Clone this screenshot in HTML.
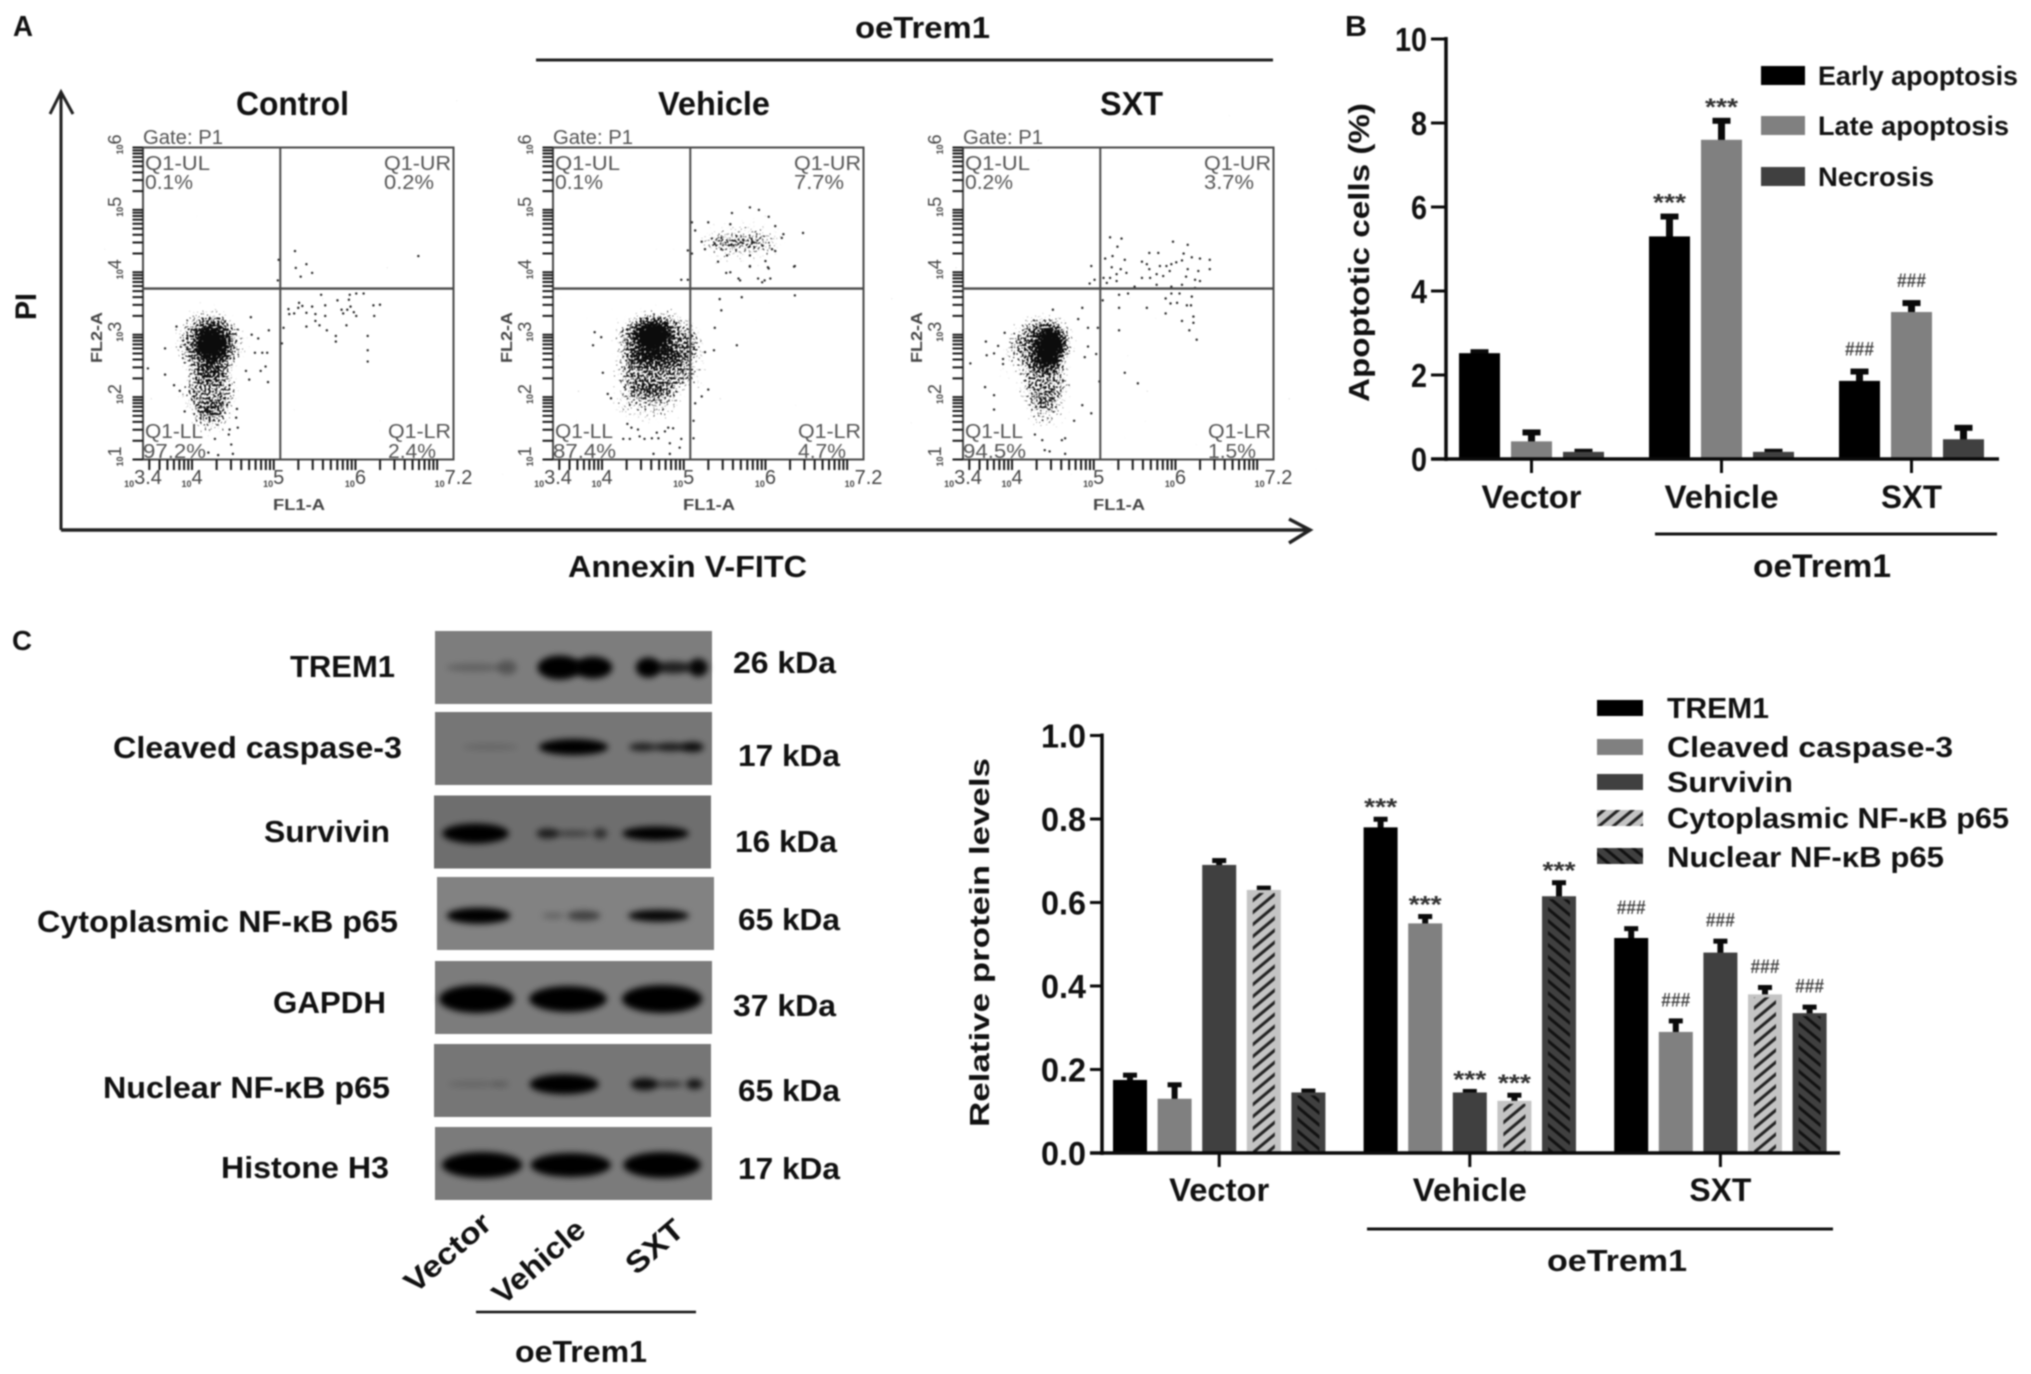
<!DOCTYPE html>
<html lang="en">
<head>
<meta charset="utf-8">
<title>Apoptosis figure</title>
<style>
html,body{margin:0;padding:0;background:#fff;}
svg{display:block;filter:blur(0.8px);}
text{font-family:"Liberation Sans",sans-serif;}
.b{font-weight:bold;fill:#111;}
.g{fill:#555;font-size:20px;}
.f{font-weight:bold;fill:#444;font-size:16px;}
</style>
</head>
<body>
<svg id="figure" xmlns="http://www.w3.org/2000/svg" width="2031" height="1374" viewBox="0 0 2031 1374">
<defs>
<filter id="speckle" filterUnits="userSpaceOnUse" x="100" y="100" width="1250" height="400" color-interpolation-filters="sRGB">
<feGaussianBlur in="SourceAlpha" stdDeviation="7" result="soft"/>
<feTurbulence type="fractalNoise" baseFrequency="0.45" numOctaves="2" seed="7" result="noise"/>
<feComposite in="soft" in2="noise" operator="arithmetic" k1="0" k2="1" k3="1" k4="-0.9" result="sum"/>
<feComponentTransfer in="sum" result="mask"><feFuncA type="linear" slope="8" intercept="0"/></feComponentTransfer>
<feFlood flood-color="#0c0c0c"/>
<feComposite in2="mask" operator="in"/>
</filter>
<filter id="bandBlur" x="-40%" y="-80%" width="180%" height="260%"><feGaussianBlur stdDeviation="3.2"/></filter>
<pattern id="hatchCyto" patternUnits="userSpaceOnUse" width="9.2" height="9.2" patternTransform="rotate(-40)"><rect width="9.2" height="9.2" fill="#c4c4c4"/><rect y="3.2" width="9.2" height="3" fill="#222"/></pattern>
<pattern id="hatchNuc" patternUnits="userSpaceOnUse" width="9.2" height="9.2" patternTransform="rotate(40)"><rect width="9.2" height="9.2" fill="#404040"/><rect y="3.2" width="9.2" height="3" fill="#111"/></pattern>
</defs>

<!-- Panel A static -->
<g>
<text class="b" x="13" y="36" font-size="29" textLength="20" lengthAdjust="spacingAndGlyphs">A</text>
<text class="b" x="855" y="38" font-size="31" textLength="135" lengthAdjust="spacingAndGlyphs">oeTrem1</text>
<line x1="536" y1="60" x2="1273" y2="60" stroke="#222" stroke-width="3"/>
<text class="b" x="236" y="115" font-size="33" textLength="113" lengthAdjust="spacingAndGlyphs">Control</text>
<text class="b" x="658" y="115" font-size="33" textLength="112" lengthAdjust="spacingAndGlyphs">Vehicle</text>
<text class="b" x="1100" y="115" font-size="33" textLength="63" lengthAdjust="spacingAndGlyphs">SXT</text>
<text class="b" x="568" y="577" font-size="31" textLength="239" lengthAdjust="spacingAndGlyphs">Annexin V-FITC</text>
<text class="b" transform="translate(36,320) rotate(-90)" font-size="30" textLength="27" lengthAdjust="spacingAndGlyphs">PI</text>
<path d="M61 530V92M50 114L61 92L73 114" fill="none" stroke="#222" stroke-width="3"/>
<path d="M61 530H1310M1289 519L1310 530L1289 543" fill="none" stroke="#222" stroke-width="3.5"/>

<g id="flow0" transform="translate(143,0)">
<text class="g" x="0" y="144" font-size="19" textLength="80" lengthAdjust="spacingAndGlyphs">Gate: P1</text>
<text class="g" x="2" y="170" textLength="65" lengthAdjust="spacingAndGlyphs">Q1-UL</text>
<text class="g" x="2" y="189" textLength="48" lengthAdjust="spacingAndGlyphs">0.1%</text>
<text class="g" x="241" y="170" textLength="67" lengthAdjust="spacingAndGlyphs">Q1-UR</text>
<text class="g" x="241" y="189" textLength="50" lengthAdjust="spacingAndGlyphs">0.2%</text>
<text class="g" x="2" y="438" textLength="58" lengthAdjust="spacingAndGlyphs">Q1-LL</text>
<text class="g" x="0" y="458" textLength="63" lengthAdjust="spacingAndGlyphs">97.2%</text>
<text class="g" x="245" y="438" textLength="63" lengthAdjust="spacingAndGlyphs">Q1-LR</text>
<text class="g" x="245" y="458" textLength="48" lengthAdjust="spacingAndGlyphs">2.4%</text>
<text class="f" x="130" y="510" textLength="52" lengthAdjust="spacingAndGlyphs">FL1-A</text>
<text class="f" transform="translate(-41,363) rotate(-90)" textLength="51" lengthAdjust="spacingAndGlyphs">FL2-A</text>
</g>
<g id="flow1" transform="translate(553,0)">
<text class="g" x="0" y="144" font-size="19" textLength="80" lengthAdjust="spacingAndGlyphs">Gate: P1</text>
<text class="g" x="2" y="170" textLength="65" lengthAdjust="spacingAndGlyphs">Q1-UL</text>
<text class="g" x="2" y="189" textLength="48" lengthAdjust="spacingAndGlyphs">0.1%</text>
<text class="g" x="241" y="170" textLength="67" lengthAdjust="spacingAndGlyphs">Q1-UR</text>
<text class="g" x="241" y="189" textLength="50" lengthAdjust="spacingAndGlyphs">7.7%</text>
<text class="g" x="2" y="438" textLength="58" lengthAdjust="spacingAndGlyphs">Q1-LL</text>
<text class="g" x="0" y="458" textLength="63" lengthAdjust="spacingAndGlyphs">87.4%</text>
<text class="g" x="245" y="438" textLength="63" lengthAdjust="spacingAndGlyphs">Q1-LR</text>
<text class="g" x="245" y="458" textLength="48" lengthAdjust="spacingAndGlyphs">4.7%</text>
<text class="f" x="130" y="510" textLength="52" lengthAdjust="spacingAndGlyphs">FL1-A</text>
<text class="f" transform="translate(-41,363) rotate(-90)" textLength="51" lengthAdjust="spacingAndGlyphs">FL2-A</text>
</g>
<g id="flow2" transform="translate(963,0)">
<text class="g" x="0" y="144" font-size="19" textLength="80" lengthAdjust="spacingAndGlyphs">Gate: P1</text>
<text class="g" x="2" y="170" textLength="65" lengthAdjust="spacingAndGlyphs">Q1-UL</text>
<text class="g" x="2" y="189" textLength="48" lengthAdjust="spacingAndGlyphs">0.2%</text>
<text class="g" x="241" y="170" textLength="67" lengthAdjust="spacingAndGlyphs">Q1-UR</text>
<text class="g" x="241" y="189" textLength="50" lengthAdjust="spacingAndGlyphs">3.7%</text>
<text class="g" x="2" y="438" textLength="58" lengthAdjust="spacingAndGlyphs">Q1-LL</text>
<text class="g" x="0" y="458" textLength="63" lengthAdjust="spacingAndGlyphs">94.5%</text>
<text class="g" x="245" y="438" textLength="63" lengthAdjust="spacingAndGlyphs">Q1-LR</text>
<text class="g" x="245" y="458" textLength="48" lengthAdjust="spacingAndGlyphs">1.5%</text>
<text class="f" x="130" y="510" textLength="52" lengthAdjust="spacingAndGlyphs">FL1-A</text>
<text class="f" transform="translate(-41,363) rotate(-90)" textLength="51" lengthAdjust="spacingAndGlyphs">FL2-A</text>
</g>
</g>

<!-- Panel B static -->
<g id="panelB">
<text class="b" x="1345" y="36" font-size="29" textLength="22" lengthAdjust="spacingAndGlyphs">B</text>
<text class="b" transform="translate(1369,402) rotate(-90)" font-size="29" textLength="299" lengthAdjust="spacingAndGlyphs">Apoptotic cells (%)</text>
<rect x="1761" y="66" width="44" height="19" fill="#000"/>
<rect x="1761" y="116" width="44" height="19" fill="#808080"/>
<rect x="1761" y="167" width="44" height="19" fill="#404040"/>
<text class="b" x="1818" y="85" font-size="27" textLength="200" lengthAdjust="spacingAndGlyphs">Early apoptosis</text>
<text class="b" x="1818" y="135" font-size="27" textLength="191" lengthAdjust="spacingAndGlyphs">Late apoptosis</text>
<text class="b" x="1818" y="186" font-size="27" textLength="116" lengthAdjust="spacingAndGlyphs">Necrosis</text>
<line x1="1655" y1="534" x2="1997" y2="534" stroke="#111" stroke-width="3"/>
<text class="b" x="1753" y="577" font-size="32" textLength="138" lengthAdjust="spacingAndGlyphs">oeTrem1</text>
</g>

<!-- Panel C static -->
<g id="panelC">
<text class="b" x="12" y="650" font-size="28" textLength="20" lengthAdjust="spacingAndGlyphs">C</text>
<text class="b" x="290" y="677" font-size="31" textLength="105" lengthAdjust="spacingAndGlyphs">TREM1</text>
<text class="b" x="113" y="758" font-size="31" textLength="289" lengthAdjust="spacingAndGlyphs">Cleaved caspase-3</text>
<text class="b" x="264" y="842" font-size="31" textLength="126" lengthAdjust="spacingAndGlyphs">Survivin</text>
<text class="b" x="37" y="932" font-size="31" textLength="361" lengthAdjust="spacingAndGlyphs">Cytoplasmic NF-κB p65</text>
<text class="b" x="273" y="1013" font-size="31" textLength="113" lengthAdjust="spacingAndGlyphs">GAPDH</text>
<text class="b" x="103" y="1098" font-size="31" textLength="287" lengthAdjust="spacingAndGlyphs">Nuclear NF-κB p65</text>
<text class="b" x="221" y="1178" font-size="31" textLength="168" lengthAdjust="spacingAndGlyphs">Histone H3</text>
<text class="b" x="733" y="673" font-size="31" textLength="103" lengthAdjust="spacingAndGlyphs">26 kDa</text>
<text class="b" x="738" y="766" font-size="31" textLength="102" lengthAdjust="spacingAndGlyphs">17 kDa</text>
<text class="b" x="735" y="852" font-size="31" textLength="102" lengthAdjust="spacingAndGlyphs">16 kDa</text>
<text class="b" x="738" y="930" font-size="31" textLength="102" lengthAdjust="spacingAndGlyphs">65 kDa</text>
<text class="b" x="733" y="1016" font-size="31" textLength="103" lengthAdjust="spacingAndGlyphs">37 kDa</text>
<text class="b" x="738" y="1101" font-size="31" textLength="102" lengthAdjust="spacingAndGlyphs">65 kDa</text>
<text class="b" x="738" y="1179" font-size="31" textLength="102" lengthAdjust="spacingAndGlyphs">17 kDa</text>
<text class="b" transform="translate(447,1252) rotate(-41)" y="11" font-size="30" text-anchor="middle" textLength="104" lengthAdjust="spacingAndGlyphs">Vector</text>
<text class="b" transform="translate(538,1261) rotate(-41)" y="11" font-size="30" text-anchor="middle" textLength="112" lengthAdjust="spacingAndGlyphs">Vehicle</text>
<text class="b" transform="translate(654,1246) rotate(-41)" y="11" font-size="30" text-anchor="middle" textLength="66" lengthAdjust="spacingAndGlyphs">SXT</text>
<line x1="476" y1="1312" x2="696" y2="1312" stroke="#111" stroke-width="2.5"/>
<text class="b" x="515" y="1362" font-size="31" textLength="132" lengthAdjust="spacingAndGlyphs">oeTrem1</text>

<text class="b" transform="translate(989,1127) rotate(-90)" font-size="28" textLength="369" lengthAdjust="spacingAndGlyphs">Relative protein levels</text>
<rect x="1597" y="700" width="46" height="16" fill="#000"/>
<rect x="1597" y="739" width="46" height="16" fill="#808080"/>
<rect x="1597" y="774" width="46" height="16" fill="#404040"/>
<rect x="1597" y="810" width="46" height="16" fill="url(#hatchCyto)"/>
<rect x="1597" y="848" width="46" height="16" fill="url(#hatchNuc)"/>
<text class="b" x="1667" y="718" font-size="29" textLength="102" lengthAdjust="spacingAndGlyphs">TREM1</text>
<text class="b" x="1667" y="757" font-size="29" textLength="286" lengthAdjust="spacingAndGlyphs">Cleaved caspase-3</text>
<text class="b" x="1667" y="792" font-size="29" textLength="126" lengthAdjust="spacingAndGlyphs">Survivin</text>
<text class="b" x="1667" y="828" font-size="29" textLength="342" lengthAdjust="spacingAndGlyphs">Cytoplasmic NF-κB p65</text>
<text class="b" x="1667" y="867" font-size="29" textLength="277" lengthAdjust="spacingAndGlyphs">Nuclear NF-κB p65</text>
<line x1="1367" y1="1229" x2="1833" y2="1229" stroke="#111" stroke-width="3"/>
<text class="b" x="1547" y="1271" font-size="31" textLength="140" lengthAdjust="spacingAndGlyphs">oeTrem1</text>
</g>

<g id="marks"></g>
</svg>

<script>
/* ---------- Panel A: flow cytometry (log10 FL1, log10 FL2) ---------- */
const flowPoints0 = [[5.26,4.34],[5.27,4.07],[5.40,4.13],[5.47,3.99],[5.33,3.93],[6.77,4.26],[5.06,4.20],[5.05,3.87],
[5.18,3.41],[5.19,3.33],[5.25,3.34],[5.31,3.51],[5.30,3.43],[5.35,3.46],[5.40,3.35],[5.47,3.45],[5.51,3.33],[5.63,3.47],[5.63,3.30],[5.58,3.64],[5.78,3.55],[5.83,3.40],[5.85,3.34],[5.90,3.40],[5.93,3.64],[5.92,3.56],[5.94,3.45],[5.98,3.36],[6.01,3.30],[6.01,3.66],[6.10,3.66],[6.22,3.47],[6.30,3.48],[6.23,3.30],[5.51,3.22],[5.56,3.15],[5.40,3.13],[5.65,3.07],[5.76,2.98],[5.76,2.89],[5.89,3.15],[6.15,2.98],[6.15,2.75],[6.15,2.57],[5.12,3.11],[5.10,2.86],
[4.72,3.28],[4.94,3.07],[4.73,3.00],[4.81,2.94],[4.77,2.71],[4.86,2.71],[4.92,2.71],[4.90,2.49],[4.84,2.42],[4.93,2.24],[4.70,2.28],[4.66,2.42],[3.46,2.46],[3.67,2.36],[3.67,2.78],[3.81,3.13],[3.78,2.19],[3.85,2.10],[3.91,1.77],[4.48,1.24],[4.50,1.09],[4.28,1.33],[4.45,1.40],[4.56,1.51],[4.32,1.07],[4.20,1.11],[4.55,1.81],[4.54,1.67],[4.46,1.48]];
const flowPoints1 = [[3.91,3.04],[3.99,2.96],[3.89,2.83],[4.01,2.39],[4.07,2.05],[4.11,1.98],[4.31,1.57],[4.36,1.51],[4.44,1.48],[4.46,1.37],[4.26,1.33],[4.34,1.33],[4.52,1.33],[4.61,1.34],[4.67,1.43],[4.69,1.34],[4.77,1.45],[4.81,1.51],[4.87,1.50],[4.97,1.33],[4.83,1.26],[4.95,1.19],[4.63,1.09],[4.83,1.09],[5.12,1.62],[5.14,1.90],[5.12,1.34],[5.30,2.12],[5.22,2.01],[5.26,2.72],[5.37,2.75],[5.65,2.83],[5.38,3.11],[5.46,3.39],[5.44,3.57],[5.71,3.60],[6.36,3.63],[6.36,4.10],[4.97,3.88],[5.05,3.88],[5.67,3.90],[5.52,3.99],[5.91,3.90],[5.99,3.87],[6.06,3.90],[5.42,4.17],[5.81,4.10],[6.03,4.08],[5.05,4.35],
[5.59,4.95],[5.81,5.04],[5.92,5.00],[6.04,4.89],[5.30,4.80],[5.57,4.77],[6.12,4.74],[6.46,4.63],[6.22,4.61],[5.10,4.80],[5.14,4.67],[5.22,4.49],[5.38,4.46],[5.46,4.55],[5.61,4.43],[5.73,4.52],[5.85,4.48],[5.96,4.43],[6.08,4.37],[6.20,4.55],[5.26,4.37],[5.46,4.37],[5.53,4.27],[5.81,4.27],[6.00,4.18],[6.12,4.34],[5.57,4.00],[5.81,4.09],[6.04,4.06],[5.69,3.87],[5.96,3.84],[6.35,4.09],[5.10,4.30]];
const flowPoints2 = [[5.20,4.56],[5.34,4.54],[5.29,4.41],[5.23,4.26],[5.14,4.22],[5.38,4.20],[4.97,4.10],[5.22,4.08],[5.33,4.05],[5.40,3.99],[5.28,3.97],[5.20,3.91],[5.01,3.88],[4.95,3.82],[5.12,3.91],[5.16,3.83],[5.28,3.86],[5.59,4.17],[5.68,4.31],[5.79,4.31],[5.65,4.13],[5.68,4.05],[5.81,4.10],[5.89,4.10],[5.95,4.13],[6.01,4.16],[6.08,4.19],[5.97,4.49],[6.15,4.44],[6.10,4.30],[6.20,4.24],[6.30,4.22],[6.42,4.20],[6.42,4.05],[6.28,4.02],[6.15,4.05],[6.13,3.93],[6.24,3.88],[5.59,3.91],[5.69,3.91],[5.77,3.97],[5.85,3.94],[5.93,4.02],[5.50,3.77],[5.77,3.80],[5.95,3.77],[6.08,3.80],[6.24,3.75],[6.30,3.86],
[5.31,3.64],[5.42,3.66],[5.31,3.43],[5.65,3.43],[5.88,3.58],[5.95,3.66],[6.05,3.66],[6.20,3.61],[5.94,3.50],[6.02,3.51],[6.14,3.47],[6.19,3.47],[5.88,3.34],[6.22,3.29],[6.08,3.22],[6.22,3.19],[6.17,3.07],[6.26,2.92],[5.31,3.07],[5.38,2.39],[5.54,2.22],[5.11,3.55],[5.07,2.25],
[3.49,2.54],[3.67,2.16],[3.78,2.03],[3.78,1.80],[3.68,2.89],[3.69,2.67],[3.78,2.70],[3.83,2.82],[3.89,2.61],[3.89,2.53],[3.91,3.03],[4.97,1.74],[4.86,1.87],[4.76,1.62],[5.03,2.69],[4.93,2.81],[4.89,2.64],[4.86,3.43],[4.81,3.25],[4.93,3.11],[5.05,3.11],[4.50,3.40],[4.65,1.34],[4.61,1.31],[4.46,1.13],[4.65,1.09],[4.40,1.15],[4.28,1.40],[4.37,1.31]];
/* population density regions: log FL1, log FL2, spread FL1, spread FL2, density */
const flowClouds0 = [[4.24,2.86,0.16,0.26,0.95],[4.22,2.85,0.42,0.56,0.42],[4.22,2.06,0.34,0.42,0.42],[4.24,1.62,0.24,0.28,0.28]];
const flowClouds1 = [[4.62,3.00,0.2,0.18,0.95],[4.67,2.94,0.52,0.44,0.42],[4.63,2.39,0.48,0.42,0.42],[4.54,1.90,0.42,0.32,0.28],[5.16,2.56,0.13,0.46,0.24],[5.69,4.48,0.46,0.1,0.5],[5.69,4.50,0.55,0.43,0.16]];
const flowClouds2 = [[4.46,2.82,0.14,0.26,0.95],[4.37,2.88,0.38,0.44,0.44],[4.40,2.23,0.31,0.42,0.42],[4.40,1.73,0.24,0.3,0.26],[3.97,2.61,0.12,0.39,0.2]];
const flowGateX = 5.08;
const flowGateY = 3.74;
const flowXTickLabels = ["3.4","4","5","6","7.2"];
const flowYTickLabels = ["1","2","3","4","5","6"];

/* ---------- Panel B ---------- */
const apoptosisGroups = ["Vector","Vehicle","SXT"];
const apoptosisSeries = ["early","late","necrosis"];
const apoptosisEarly = [2.52,5.30,1.86];
const apoptosisLate = [0.42,7.60,3.50];
const apoptosisNecrosis = [0.17,0.17,0.47];
const apoptosisEarlyErr = [0.07,0.52,0.27];
const apoptosisLateErr = [0.26,0.50,0.26];
const apoptosisNecrosisErr = [0.05,0.05,0.32];
const apoptosisEarlySig = ["","***","###"];
const apoptosisLateSig = ["","***","###"];
const apoptosisNecrosisSig = ["","",""];
const apoptosisTicks = ["0","2","4","6","8","10"];

/* ---------- Panel C chart ---------- */
const proteinGroups = ["Vector","Vehicle","SXT"];
const proteinSeries = ["trem1","cleaved-caspase","survivin","cytoplasmic-nfkb","nuclear-nfkb"];
const proteinTrem1 = [0.175,0.78,0.515];
const proteinCleaved = [0.13,0.55,0.29];
const proteinSurvivin = [0.69,0.145,0.48];
const proteinCyto = [0.63,0.125,0.38];
const proteinNuclear = [0.145,0.615,0.335];
const proteinTrem1Err = [0.015,0.023,0.026];
const proteinCleavedErr = [0.037,0.02,0.03];
const proteinSurvivinErr = [0.014,0.006,0.031];
const proteinCytoErr = [0.008,0.017,0.02];
const proteinNuclearErr = [0.007,0.036,0.018];
const proteinTrem1Sig = ["","***","###"];
const proteinCleavedSig = ["","***","###"];
const proteinSurvivinSig = ["","***","###"];
const proteinCytoSig = ["","***","###"];
const proteinNuclearSig = ["","***","###"];
const proteinTicks = ["0.0","0.2","0.4","0.6","0.8","1.0"];

/* ---------- Panel C blots: band centre, half-width (fractions of blot), half-height, darkness ---------- */
const blotNames = ["trem1","cleaved-caspase","survivin","cytoplasmic-nfkb","gapdh","nuclear-nfkb","histone-h3"];
const blotBackgrounds = ["#7d7d7d","#767676","#6e6e6e","#828282","#7c7c7c","#767676","#7b7b7b"];
const blotBandsTrem1 = [[0.14,0.1,4,0.22],[0.26,0.035,7,0.32],[0.45,0.08,12,1],[0.57,0.07,11,1],[0.77,0.045,10,1],[0.86,0.07,6,0.75],[0.95,0.035,9,0.95]];
const blotBandsCleaved = [[0.2,0.1,3,0.15],[0.5,0.125,8,1],[0.75,0.05,4,0.75],[0.85,0.06,4,0.8],[0.93,0.04,5,0.9]];
const blotBandsSurvivin = [[0.15,0.12,10,1],[0.41,0.04,5,0.75],[0.5,0.07,3,0.45],[0.6,0.025,5,0.6],[0.8,0.12,7,1]];
const blotBandsCyto = [[0.15,0.115,8,1],[0.42,0.04,3,0.25],[0.53,0.06,5,0.5],[0.8,0.11,6,0.95]];
const blotBandsGapdh = [[0.15,0.135,14,1],[0.48,0.14,13,1],[0.82,0.145,14,1]];
const blotBandsNuclear = [[0.14,0.09,3,0.15],[0.24,0.03,3,0.22],[0.47,0.125,10,1],[0.76,0.05,6,0.9],[0.85,0.05,3,0.6],[0.94,0.03,5,0.85]];
const blotBandsHistone = [[0.17,0.145,13,1],[0.49,0.145,12,1],[0.82,0.14,13,1]];

const NS = "http://www.w3.org/2000/svg";
const marks = document.getElementById("marks");
function make(tag, attrs, parent) {
  const node = document.createElementNS(NS, tag);
  for (const k in attrs) node.setAttribute(k, attrs[k]);
  parent.appendChild(node);
  return node;
}

/* flow axes */
const flowLefts = [143, 553, 963];
const flowTop = 147.5, flowBottom = 459.5, flowWidth = 310.5;
const flowNames = ["control","vehicle","sxt"];
const flowAllPoints = [flowPoints0, flowPoints1, flowPoints2];
const flowAllClouds = [flowClouds0, flowClouds1, flowClouds2];
function flowX(p, v) { return flowLefts[p] + (v - 3.4) / 3.8 * flowWidth; }
function flowY(v) { return flowBottom - (v - 1) / 5 * (flowBottom - flowTop); }

flowAllPoints.forEach(function (pts, p) {
  const g = make("g", {}, marks);
  
  
  const cloud = make("g", { filter: "url(#speckle)" }, g);
  
  
  flowAllClouds[p].forEach(function (c) {
    const e = make("ellipse", {
      cx: flowX(p, c[0]), cy: flowY(c[1]),
      rx: flowX(p, c[0] + c[2]) - flowX(p, c[0]),
      ry: flowY(c[1]) - flowY(c[1] + c[3]),
      fill: "#000", "fill-opacity": c[4]
    }, cloud);
    
    
  });
  pts.forEach(function (d) {
    const dot = make("circle", { cx: flowX(p, d[0]), cy: flowY(d[1]), r: 1.2, fill: "#222" }, g);
    
    
  });

  const axis = make("g", { stroke: "#4a4a4a", fill: "none" }, marks);
  
  
  const L = flowLefts[p], R = L + flowWidth;
  make("rect", { x: L, y: flowTop, width: flowWidth, height: flowBottom - flowTop, "stroke-width": 2 }, axis);
  make("line", { x1: flowX(p, flowGateX), x2: flowX(p, flowGateX), y1: flowTop, y2: flowBottom, "stroke-width": 2 }, axis);
  make("line", { x1: L, x2: R, y1: flowY(flowGateY), y2: flowY(flowGateY), "stroke-width": 2.4 }, axis);
  let xTickPath = "";
  for (let dec = 3; dec <= 7; dec++) for (let m = 1; m <= 9; m++) {
    const v = dec + Math.log10(m);
    if (v < 3.4 || v > 7.2) continue;
    xTickPath += "M" + flowX(p, v) + " " + flowBottom + "V" + (flowBottom + 10.5);
  }
  const xTicks = make("path", { d: xTickPath, stroke: "#1a1a1a", "stroke-width": 2, fill: "none" }, axis);
  
  
  let yTickPath = "";
  for (let dec = 1; dec <= 5; dec++) for (let m = 1; m <= 9; m++) {
    const v = dec + Math.log10(m);
    yTickPath += "M" + (L - 10.5) + " " + flowY(v) + "H" + L;
  }
  yTickPath += "M" + (L - 10.5) + " " + flowY(6) + "H" + L;
  const yTicks = make("path", { d: yTickPath, stroke: "#1a1a1a", "stroke-width": 2, fill: "none" }, axis);
  
  

  flowXTickLabels.forEach(function (lab) {
    const t = make("text", { x: flowX(p, parseFloat(lab)), y: 487, "text-anchor": "middle", fill: "#444", "font-size": 20 }, marks);
    
    
    const a = make("tspan", { "font-size": 9, "font-weight": "bold" }, t);
    a.textContent = "10";
    const b = make("tspan", { dy: -3 }, t);
    b.textContent = lab;
  });
  flowYTickLabels.forEach(function (lab) {
    const t = make("text", { transform: "translate(" + (L - 20) + "," + (flowY(parseFloat(lab)) - 3) + ") rotate(-90)", "text-anchor": "middle", fill: "#444", "font-size": 18 }, marks);
    
    
    const a = make("tspan", { "font-size": 9, "font-weight": "bold" }, t);
    a.textContent = "10";
    const b = make("tspan", { dy: -2 }, t);
    b.textContent = lab;
  });
});

/* generic bar chart */
function barChart(cfg) {
  const chart = make("g", {}, marks);
  
  
  function xBar(gi, si) { return cfg.x0 + gi * cfg.groupStep + si * cfg.barStep; }
  function yVal(v) { return cfg.y0 - (v - cfg.min) / (cfg.max - cfg.min) * (cfg.y0 - cfg.y1); }
  cfg.values.forEach(function (vals, si) {
    vals.forEach(function (v, gi) {
      const x = xBar(gi, si), y = yVal(v), cx = x + cfg.barW / 2;
      const top = yVal(v + cfg.errors[si][gi]);
      const stem = make("rect", { x: cx - cfg.stemW / 2, y: top, width: cfg.stemW, height: y - top + 1, fill: "#0a0a0a" }, chart);
      
      
      const cap = make("rect", { x: cx - cfg.capW / 2, y: top - 1, width: cfg.capW, height: cfg.capH, fill: "#0a0a0a" }, chart);
      
      
      const bar = make("rect", { x: x, y: y, width: cfg.barW, height: cfg.y0 - y, fill: cfg.fills[si] }, chart);
      
      
      if (cfg.hatch[si]) {
        const hatch = make("rect", { x: x + 6, y: y + 3, width: cfg.barW - 12, height: Math.max(0, cfg.y0 - y - 3), fill: cfg.hatch[si] }, chart);
        
        
      }
      const sig = cfg.sigs[si][gi];
      if (sig === "***") {
        const s = make("text", { x: cx, y: top - cfg.starGap + 13, "text-anchor": "middle", "font-size": 24, "font-weight": "bold", fill: "#333", textLength: 33, lengthAdjust: "spacingAndGlyphs" }, chart);
        
        
        s.textContent = sig;
      } else if (sig === "###") {
        const s = make("text", { x: cx, y: top - cfg.hashGap + 7, "text-anchor": "middle", "font-size": 19, "font-weight": "bold", fill: "#444", textLength: 29, lengthAdjust: "spacingAndGlyphs" }, chart);
        
        
        s.textContent = sig;
      }
    });
  });
  const yAxis = make("line", { x1: cfg.axisX, x2: cfg.axisX, y1: yVal(cfg.max) - 2, y2: cfg.y0 + 2, stroke: "#0a0a0a", "stroke-width": 3.5 }, chart);
  
  
  const xAxis = make("line", { x1: cfg.xStart, x2: cfg.xEnd, y1: cfg.y0, y2: cfg.y0, stroke: "#0a0a0a", "stroke-width": 3.5 }, chart);
  
  
  cfg.ticks.forEach(function (lab) {
    const y = yVal(parseFloat(lab));
    const tk = make("line", { x1: cfg.xStart, x2: cfg.axisX, y1: y, y2: y, stroke: "#0a0a0a", "stroke-width": 3 }, chart);
    
    
    const t = make("text", { x: cfg.xStart - 4, y: y + 12, "text-anchor": "end", "font-size": 33, "font-weight": "bold", fill: "#111", textLength: lab.length * cfg.tickCharW, lengthAdjust: "spacingAndGlyphs" }, chart);
    
    
    t.textContent = lab;
  });
  cfg.groups.forEach(function (lab, gi) {
    const cx = xBar(gi, (cfg.values.length - 1) / 2) + cfg.barW / 2;
    const tk = make("line", { x1: cx, x2: cx, y1: cfg.y0, y2: cfg.y0 + 14, stroke: "#0a0a0a", "stroke-width": 3 }, chart);
    
    
    const t = make("text", { x: cx, y: cfg.labelY, "text-anchor": "middle", "font-size": 32, "font-weight": "bold", fill: "#111", textLength: cfg.labelW[gi], lengthAdjust: "spacingAndGlyphs" }, chart);
    
    
    t.textContent = lab;
  });
}

barChart({
  name: "apoptosis-bar-chart", groups: apoptosisGroups, series: apoptosisSeries,
  values: [apoptosisEarly, apoptosisLate, apoptosisNecrosis],
  errors: [apoptosisEarlyErr, apoptosisLateErr, apoptosisNecrosisErr],
  sigs: [apoptosisEarlySig, apoptosisLateSig, apoptosisNecrosisSig],
  fills: ["#000", "#808080", "#404040"], hatch: [null, null, null],
  ticks: apoptosisTicks, min: 0, max: 10, y0: 459, y1: 39,
  x0: 1459, barW: 41, barStep: 52, groupStep: 190,
  axisX: 1446, xStart: 1431, xEnd: 1999,
  stemW: 7, capW: 18, capH: 6, starGap: 17, hashGap: 21,
  tickCharW: 16,
  labelY: 508, labelW: [100, 114, 61]
});
barChart({
  name: "protein-bar-chart", groups: proteinGroups, series: proteinSeries,
  values: [proteinTrem1, proteinCleaved, proteinSurvivin, proteinCyto, proteinNuclear],
  errors: [proteinTrem1Err, proteinCleavedErr, proteinSurvivinErr, proteinCytoErr, proteinNuclearErr],
  sigs: [proteinTrem1Sig, proteinCleavedSig, proteinSurvivinSig, proteinCytoSig, proteinNuclearSig],
  fills: ["#000", "#808080", "#404040", "#c4c4c4", "#404040"], hatch: [null, null, null, "url(#hatchCyto)", "url(#hatchNuc)"],
  ticks: proteinTicks, min: 0, max: 1, y0: 1153, y1: 735.5,
  x0: 1113, barW: 34, barStep: 44.6, groupStep: 250.6,
  axisX: 1102, xStart: 1090, xEnd: 1840,
  stemW: 6, capW: 14, capH: 5, starGap: 15.6, hashGap: 20,
  tickCharW: 15,
  labelY: 1201, labelW: [100, 114, 62]
});

/* western blots */
const blotBands = [blotBandsTrem1, blotBandsCleaved, blotBandsSurvivin, blotBandsCyto, blotBandsGapdh, blotBandsNuclear, blotBandsHistone];
const blotTops = [631, 712, 795.5, 877, 961, 1044, 1127];
const blotLefts = [435, 435, 434, 437, 435, 434, 435];
const blotBandCenter = [0.5, 0.48, 0.52, 0.53, 0.52, 0.55, 0.52];
const blotW = 277, blotH = 73;
blotNames.forEach(function (name, i) {
  const g = make("g", {}, marks);
  
  
  const bg = make("rect", { x: blotLefts[i], y: blotTops[i], width: blotW, height: blotH, fill: blotBackgrounds[i] }, g);
  
  
  blotBands[i].forEach(function (b) {
    const e = make("ellipse", {
      cx: blotLefts[i] + b[0] * blotW, cy: blotTops[i] + blotBandCenter[i] * blotH,
      rx: b[1] * blotW, ry: b[2], fill: "#000", "fill-opacity": b[3], filter: "url(#bandBlur)"
    }, g);
    
    
  });
});
</script>
</body>
</html>
